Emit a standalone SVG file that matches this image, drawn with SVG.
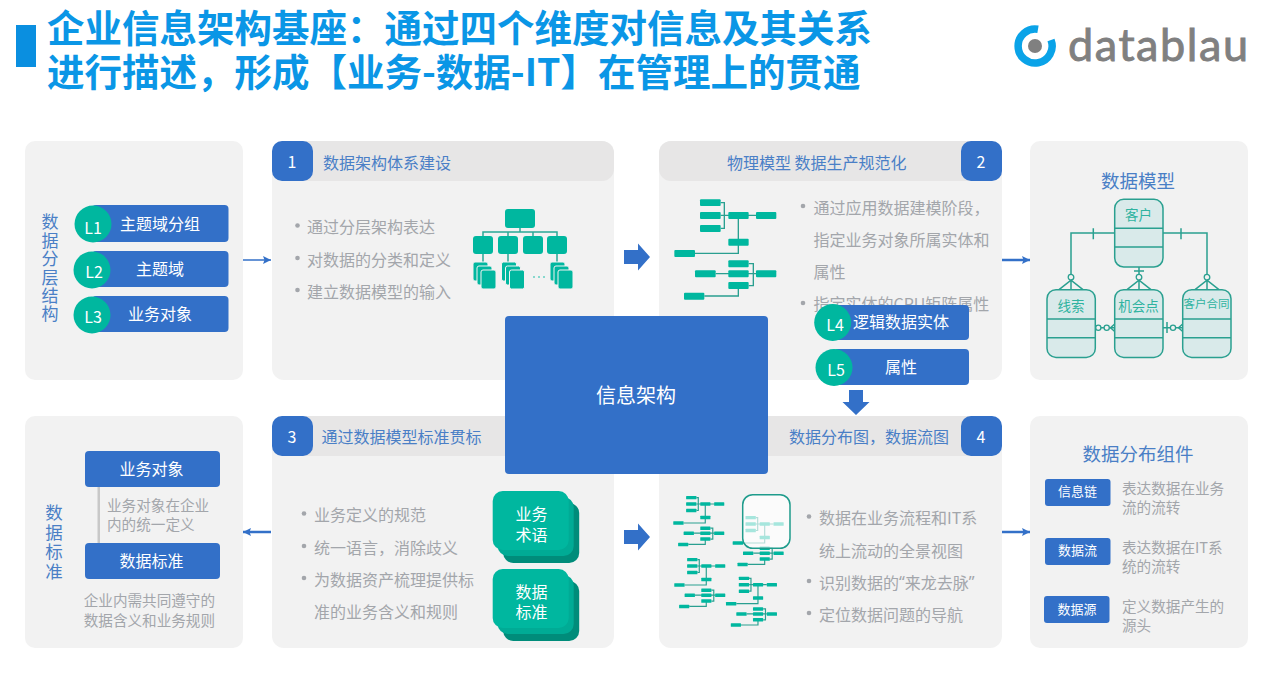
<svg xmlns="http://www.w3.org/2000/svg" width="1267" height="699" viewBox="0 0 1267 699">
  <style>
    text { font-family: "Noto Sans CJK SC", "Noto Sans", sans-serif; dominant-baseline: central; transform: translateY(-1.5px); }
    .panel { fill: #f2f2f2; }
    .head { fill: #e7e6e6; }
    .blue { fill: #3370c8; }
    .teal { fill: #00b79f; }
    .title { font-size: 37.500px; font-weight: 700; fill: #0a96e6; }
    .num { font-size: 16px; fill: #fff; text-anchor: middle; }
    .hd { font-size: 16px; fill: #4a7fc6; }
    .bl { font-size: 16px; fill: #a3a6ab; }
    .note { font-size: 14.600px; fill: #a3a6ab; }
    .w16 { font-size: 16px; fill: #fff; text-anchor: middle; }
    .w13 { font-size: 13px; fill: #fff; text-anchor: middle; }
    .v { font-size: 17px; fill: #4a7fc6; writing-mode: vertical-rl; }
    .h18 { font-size: 18.500px; fill: #4a7fc6; text-anchor: middle; }
    .dot { fill: #a3a6ab; }
    .flow { stroke: #3370c8; fill: none; }
    .er { fill: #d9eaea; stroke: #2aa090; stroke-width: 1.5; }
    .erl { fill: none; stroke: #2aa090; stroke-width: 1.5; }
    .ero { fill: #f2f2f2; stroke: #2aa090; stroke-width: 1.3; }
    .ert { font-size: 13.500px; fill: #2fb3a0; text-anchor: middle; }
    .link { fill: none; stroke: #2a9f90; stroke-width: var(--lw, 4); }
    .leaf { fill: #00b79f; }
    .latin { font-family: "Noto Sans", sans-serif; }
  </style>
  <defs>
    <marker id="tip" viewBox="0 0 8 8" refX="8" refY="4" markerWidth="8" markerHeight="8" markerUnits="userSpaceOnUse" orient="auto">
      <path d="M0 0L8 4L0 8L1.500 4Z" fill="#3370c8"/>
    </marker>
    <!-- lineage sketch, authored at three times its normal size -->
    <g id="lineage">
      <path class="link" d="M167 38H178V115H167M167 76H273M220 76V190H90M152 251H273M251 221H265V287H251M220 287V318H118"/>
      <rect class="leaf" x="105" y="28" width="62" height="20" rx="3"/>
      <rect class="leaf" x="105" y="66" width="62" height="21" rx="3"/>
      <rect class="leaf" x="105" y="105" width="62" height="21" rx="3"/>
      <rect class="leaf" x="190" y="66" width="61" height="21" rx="3"/>
      <rect class="leaf" x="273" y="66" width="61" height="21" rx="3"/>
      <rect class="leaf" x="190" y="146" width="61" height="21" rx="3"/>
      <rect class="leaf" x="28" y="180" width="62" height="21" rx="3"/>
      <rect class="leaf" x="190" y="211" width="61" height="21" rx="3"/>
      <rect class="leaf" x="190" y="241" width="61" height="21" rx="3"/>
      <rect class="leaf" x="190" y="276" width="61" height="21" rx="3"/>
      <rect class="leaf" x="90" y="241" width="62" height="21" rx="3"/>
      <rect class="leaf" x="273" y="241" width="61" height="21" rx="3"/>
      <rect class="leaf" x="57" y="308" width="61" height="21" rx="3"/>
    </g>
    <g id="pages">
      <rect x="0" y="0" width="15" height="19" rx="2" fill="#00b79f" stroke="#f2f2f2"/>
      <rect x="4" y="4" width="15" height="19" rx="2" fill="#00b79f" stroke="#f2f2f2"/>
      <rect x="8" y="8" width="15" height="19" rx="2" fill="#00b79f" stroke="#f2f2f2"/>
    </g>
    <!-- crow's foot with a circle, pointing down onto an entity -->
    <g id="crow">
      <path class="erl" d="M0 -10V0M-12 0L0 -9.500L12 0"/>
      <circle class="ero" cx="0" cy="-12.500" r="2.800"/>
    </g>
    <g id="term">
      <rect x="10.500" y="12" width="76" height="60" rx="10" fill="#008c7a"/>
      <rect x="5" y="6" width="76" height="59" rx="10" fill="#00ab95"/>
      <rect x="0" y="0" width="76" height="59" rx="10" fill="#00b79f"/>
    </g>
  </defs>

  <g id="page-title">
    <rect x="16" y="25" width="20" height="42" fill="#0a8fe0"/>
    <text class="title" x="47" y="27">企业信息架构基座&#xFF1A;通过四个维度对信息及其关系</text>
    <text class="title" x="47" y="71">进行描述&#xFF0C;形成【业务-数据-IT】在管理上的贯通</text>
  </g>

  <g id="logo">
    <path d="M1038 29.300A17 17 0 1 0 1051 40" fill="none" stroke="#0aa3e8" stroke-width="7.500"/>
    <circle cx="1035" cy="46" r="7" fill="#808080"/>
    <text x="1068" y="62.500" font-size="45" textLength="180" lengthAdjust="spacing" fill="#808080" stroke="#808080" stroke-width=".9" style="font-family:Lato,'Noto Sans',sans-serif;dominant-baseline:auto">datablau</text>
  </g>

  <g id="layers">
    <rect class="panel" x="25" y="141" width="218" height="239" rx="10"/>
    <text class="v" x="50" y="215" letter-spacing="1.400">数据分层结构</text>
    <rect class="blue" x="92" y="205" width="136.500" height="37" rx="4"/>
    <circle class="teal" cx="93" cy="224" r="18.500"/>
    <text class="num" x="93" y="228">L1</text>
    <text class="w16" x="160" y="224">主题域分组</text>
    <rect class="blue" x="92" y="251" width="136.500" height="36" rx="4"/>
    <circle class="teal" cx="92" cy="270" r="18.500"/>
    <text class="num" x="94" y="272">L2</text>
    <text class="w16" x="160" y="269">主题域</text>
    <rect class="blue" x="92" y="296" width="136.500" height="36" rx="4"/>
    <circle class="teal" cx="92" cy="315" r="18.500"/>
    <text class="num" x="93" y="317">L3</text>
    <text class="w16" x="160" y="314">业务对象</text>
  </g>

  <g id="architecture">
    <rect class="panel" x="272" y="141" width="342" height="239" rx="12"/>
    <path class="head" d="M284 141H602A12 12 0 0 1 614 153V169A12 12 0 0 1 602 181H284Z"/>
    <rect class="blue" x="272" y="141" width="41" height="40" rx="10"/>
    <text class="num" x="292" y="162">1</text>
    <text class="hd" x="323" y="163">数据架构体系建设</text>
    <circle class="dot" cx="297.500" cy="225.500" r="2.300"/>
    <circle class="dot" cx="297.500" cy="258" r="2.300"/>
    <circle class="dot" cx="297.500" cy="290" r="2.300"/>
    <text class="bl" x="307" y="227">通过分层架构表达</text>
    <text class="bl" x="307" y="260">对数据的分类和定义</text>
    <text class="bl" x="307" y="292">建立数据模型的输入</text>
    <path d="M520 228V232M483 236V232H557V236M508 232V236M533 232V236M483 254V262M508 254V262M557 254V262" fill="none" stroke="#2aa897" stroke-width="1.500"/>
    <rect class="teal" x="505" y="209" width="30" height="19" rx="3"/>
    <rect class="teal" x="473" y="236" width="20" height="18" rx="3"/>
    <rect class="teal" x="498" y="236" width="20" height="18" rx="3"/>
    <rect class="teal" x="523" y="236" width="20" height="18" rx="3"/>
    <rect class="teal" x="547" y="236" width="20" height="18" rx="3"/>
    <use href="#pages" x="473" y="262"/>
    <use href="#pages" x="501.500" y="262"/>
    <use href="#pages" x="550" y="262"/>
    <circle cx="534" cy="277" r=".8" class="teal"/><circle cx="539" cy="277" r=".8" class="teal"/><circle cx="544" cy="277" r=".8" class="teal"/>
  </g>

  <g id="physical-model">
    <rect class="panel" x="659" y="141" width="343" height="239" rx="12"/>
    <path class="head" d="M671 141H990V181H671A12 12 0 0 1 659 169V153A12 12 0 0 1 671 141Z"/>
    <rect class="blue" x="961" y="141" width="41" height="40" rx="10"/>
    <text class="num" x="981" y="162">2</text>
    <text class="hd" x="727" y="163">物理模型 数据生产规范化</text>
    <use href="#lineage" transform="translate(665 190) scale(.3333)"/>
    <circle class="dot" cx="803" cy="206" r="2.300"/>
    <circle class="dot" cx="803" cy="303" r="2.300"/>
    <text class="bl" x="813.500" y="208">通过应用数据建模阶段&#xFF0C;</text>
    <text class="bl" x="813.500" y="240">指定业务对象所属实体和</text>
    <text class="bl" x="813.500" y="272">属性</text>
    <text class="bl" x="813.500" y="304">指定实体的CPU矩阵属性</text>
  </g>

  <g id="data-model">
    <rect class="panel" x="1030" y="141" width="218" height="239" rx="10"/>
    <text class="h18" x="1138" y="181">数据模型</text>
    <g id="er-links">
      <path class="erl" d="M1114.700 233H1071V277M1163 233H1207V277M1139 267V277M1093.300 228.300V239.300M1181 228.300V239.300M1134 271H1144M1095.300 327.700H1114.700M1163 327.700H1182.700M1167 322V333"/>
      <use href="#crow" x="1071" y="289.700"/>
      <use href="#crow" x="1139" y="289.700"/>
      <use href="#crow" x="1207" y="289.700"/>
      <path class="erl" d="M1110.500 327.700L1114.700 324M1110.500 327.700L1114.700 331.500M1178.500 327.700L1182.700 324M1178.500 327.700L1182.700 331.500"/>
      <circle class="ero" cx="1098.300" cy="327.700" r="2.600"/>
      <circle class="ero" cx="1106.700" cy="327.700" r="2.600"/>
      <circle class="ero" cx="1173" cy="327.700" r="2.600"/>
    </g>
    <g id="er-customer">
      <rect class="er" x="1114.700" y="199.300" width="48.300" height="67.700" rx="9"/>
      <path class="erl" d="M1114.700 228.300H1163M1114.700 247H1163"/>
      <text class="ert" x="1138.500" y="215">客户</text>
    </g>
    <g id="er-lead">
      <rect class="er" x="1047" y="289.700" width="48.300" height="67.700" rx="9"/>
      <path class="erl" d="M1047 319H1095.300M1047 337.700H1095.300"/>
      <text class="ert" x="1071" y="306">线索</text>
    </g>
    <g id="er-opportunity">
      <rect class="er" x="1114.700" y="289.700" width="48.300" height="67.700" rx="9"/>
      <path class="erl" d="M1114.700 319H1163M1114.700 337.700H1163"/>
      <text class="ert" x="1138.500" y="306">机会点</text>
    </g>
    <g id="er-contract">
      <rect class="er" x="1182.700" y="289.700" width="48.300" height="67.700" rx="9"/>
      <path class="erl" d="M1182.700 319H1231M1182.700 337.700H1231"/>
      <text class="ert" x="1206.500" y="304" style="font-size:11.500px">客户合同</text>
    </g>
  </g>

  <g id="standards">
    <rect class="panel" x="25" y="416" width="218" height="232" rx="10"/>
    <text class="v" x="54" y="505.500" letter-spacing="2" style="font-size:17.500px">数据标准</text>
    <rect x="97.500" y="487" width="2.500" height="56" fill="#c8c8c8"/>
    <rect class="blue" x="85" y="451" width="135" height="36" rx="4"/>
    <text class="w16" x="151.500" y="469">业务对象</text>
    <rect class="blue" x="85" y="543" width="135" height="36" rx="4"/>
    <text class="w16" x="151.500" y="561">数据标准</text>
    <text class="note"><tspan x="107" y="505">业务对象在企业</tspan><tspan x="107" y="524">内的统一定义</tspan></text>
    <text class="note"><tspan x="83.700" y="600.700">企业内需共同遵守的</tspan><tspan x="83.700" y="620">数据含义和业务规则</tspan></text>
  </g>

  <g id="term-alignment">
    <rect class="panel" x="272" y="416" width="342" height="232" rx="12"/>
    <path class="head" d="M284 416H520V456H284Z"/>
    <rect class="blue" x="272" y="416" width="41" height="40" rx="10"/>
    <text class="num" x="292" y="437">3</text>
    <text class="hd" x="321.500" y="437">通过数据模型标准贯标</text>
    <circle class="dot" cx="304" cy="513.500" r="2.300"/>
    <circle class="dot" cx="304" cy="546" r="2.300"/>
    <circle class="dot" cx="304" cy="578" r="2.300"/>
    <text class="bl" x="314" y="515.700">业务定义的规范</text>
    <text class="bl" x="314" y="548">统一语言&#xFF0C;消除歧义</text>
    <text class="bl" x="314" y="580">为数据资产梳理提供标</text>
    <text class="bl" x="314" y="612">准的业务含义和规则</text>
    <use href="#term" x="492.700" y="491"/>
    <text class="w16"><tspan x="531.500" y="514">业务</tspan><tspan x="531.500" y="535">术语</tspan></text>
    <use href="#term" x="492.700" y="569"/>
    <text class="w16"><tspan x="531.500" y="592">数据</tspan><tspan x="531.500" y="612.500">标准</tspan></text>
  </g>

  <g id="distribution-map">
    <rect class="panel" x="659" y="416" width="343" height="232" rx="12"/>
    <path class="head" d="M760 416H990V456H760Z"/>
    <rect class="blue" x="961" y="416" width="41" height="40" rx="10"/>
    <text class="num" x="981" y="437">4</text>
    <text class="hd" x="789" y="437">数据分布图&#xFF0C;数据流图</text>
    <use href="#lineage" style="--lw:7" transform="translate(668.600 491.300) scale(.1667)"/>
    <use href="#lineage" style="--lw:7" transform="translate(669.600 553.300) scale(.1667)"/>
    <use href="#lineage" style="--lw:7" transform="translate(728 511.300) scale(.1667)"/>
    <use href="#lineage" style="--lw:7" transform="translate(721.300 572) scale(.1667)"/>
    <rect x="742.700" y="494.700" width="47.300" height="53.600" rx="10" fill="#fff" fill-opacity=".65" stroke="#1f9c8c" stroke-width="1.500"/>
    <circle class="dot" cx="809" cy="516.500" r="2.300"/>
    <circle class="dot" cx="809" cy="581" r="2.300"/>
    <circle class="dot" cx="809" cy="613" r="2.300"/>
    <text class="bl" x="819" y="518.700">数据在业务流程和IT系</text>
    <text class="bl" x="819" y="551">统上流动的全景视图</text>
    <text class="bl" x="819" y="583">识别数据的<tspan class="latin">“</tspan>来龙去脉<tspan class="latin">”</tspan></text>
    <text class="bl" x="819" y="615.700">定位数据问题的导航</text>
  </g>

  <g id="distribution-parts">
    <rect class="panel" x="1030" y="416" width="218" height="232" rx="10"/>
    <text class="h18" x="1138" y="454">数据分布组件</text>
    <rect class="blue" x="1045" y="479" width="65.500" height="27" rx="3"/>
    <text class="w13" x="1077.500" y="492">信息链</text>
    <rect class="blue" x="1045" y="538" width="65.500" height="27" rx="3"/>
    <text class="w13" x="1077.500" y="551">数据流</text>
    <rect class="blue" x="1044" y="596" width="65.500" height="27" rx="3"/>
    <text class="w13" x="1077" y="609.500">数据源</text>
    <text class="note"><tspan x="1122" y="488.700">表达数据在业务</tspan><tspan x="1122" y="507">流的流转</tspan></text>
    <text class="note"><tspan x="1122" y="547.700">表达数据在IT系</tspan><tspan x="1122" y="566">统的流转</tspan></text>
    <text class="note"><tspan x="1122" y="606">定义数据产生的</tspan><tspan x="1122" y="625">源头</tspan></text>
  </g>

  <g id="connectors">
    <path class="flow" stroke-width="1.500" marker-end="url(#tip)" d="M243 260H271"/>
    <path class="flow" stroke-width="2.500" marker-end="url(#tip)" d="M1002 260H1030"/>
    <path class="flow" stroke-width="2.500" marker-end="url(#tip)" d="M271 532H243"/>
    <path class="flow" stroke-width="2.500" marker-end="url(#tip)" d="M1002 532H1030"/>
    <path class="blue" d="M624 250H638V243.500L650 257L638 270.500V264H624Z"/>
    <path class="blue" d="M624 530H638V523.500L650 537L638 550.500V544H624Z"/>
    <path class="blue" d="M849 390H863V402H869.500L856 415L842.500 402H849Z"/>
  </g>

  <g id="information-architecture">
    <rect class="blue" x="505" y="316" width="263" height="158" rx="4"/>
    <text x="636" y="396" font-size="20" fill="#fff" text-anchor="middle">信息架构</text>
  </g>

  <g id="entity-levels">
    <rect class="blue" x="833" y="305" width="136" height="35" rx="4"/>
    <circle class="teal" cx="832.700" cy="322.500" r="18.500"/>
    <text class="num" x="835" y="325">L4</text>
    <text class="w16" x="901" y="322.700">逻辑数据实体</text>
    <rect class="blue" x="834" y="349" width="135" height="36" rx="4"/>
    <circle class="teal" cx="834" cy="367.500" r="18.500"/>
    <text class="num" x="836" y="370">L5</text>
    <text class="w16" x="901" y="367.500">属性</text>
  </g>
</svg>
